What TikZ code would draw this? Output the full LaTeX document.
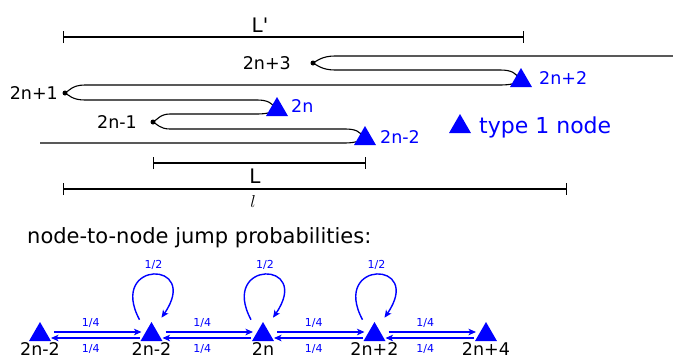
\documentclass[tikz,border=0pt]{standalone}
\usepackage{fontspec}
\setmainfont{DejaVu Sans}
\usepackage{tikz}
\usetikzlibrary{arrows.meta, shapes.geometric, positioning, calc}

\begin{document}
\begin{tikzpicture}[
    x=1pt, y=-1pt,
    tri/.style={regular polygon, regular polygon sides=3, fill=blue, inner sep=0pt, minimum size=25.4pt},
    dot/.style={circle, fill=black, inner sep=0pt, minimum size=5pt},
    wire/.style={line width=1.1pt},
    span/.style={{Bar[width=12pt]}-{Bar[width=12pt]}, line width=1.1pt},
    jump/.style={-{Stealth[length=7.5pt, width=6.5pt, inset=2pt]}, blue, line width=1.4pt},
    num/.style={inner sep=0pt, font=\fontsize{17.5}{20}\selectfont},
    big/.style={inner sep=0pt, font=\fontsize{20}{24}\selectfont},
    prob/.style={inner sep=0pt, text=blue, font=\fontsize{11}{13}\selectfont}
  ]
  \useasboundingbox (0,0) rectangle (673,359);

  % Length bars
  \coordinate (lpa) at (63,37);  \coordinate (lpb) at (524,37);
  \coordinate (la)  at (153,163); \coordinate (lb)  at (366,163);
  \coordinate (sa)  at (63,189);  \coordinate (sb)  at (567,189);
  \draw[span] (lpa) -- (lpb);
  \draw[span] (la) -- (lb);
  \draw[span] (sa) -- (sb);
  \node[big, anchor=base] (lplab) at (260,32) {L\textquotesingle};
  \node[big, anchor=base] (llab) at (255,183) {L};
  \node[num] (slab) at (253,201) {$l$};

  % Folded chain
  \node[dot] (d3) at (313,63) {};
  \node[dot] (d1) at (65,93) {};
  \node[dot] (dm1) at (153,122) {};
  \coordinate (zs) at (40,143);
  \coordinate (ze) at (673,56);
  \draw[wire] (zs) -- (345,143) .. controls (357,143) and (360,140) .. (365,138.7)
    .. controls (360,131) and (355,129) .. (345,129) -- (170,129)
    .. controls (160,129) and (157,124) .. (dm1.center)
    .. controls (157,120) and (160,114) .. (170,114) -- (257,114)
    .. controls (268,114) and (272,112) .. (277,109.7)
    .. controls (272,103) and (268,100) .. (257,100) -- (85,100)
    .. controls (72,100) and (69,95) .. (d1.center)
    .. controls (69,91) and (72,85) .. (85,85) -- (500,85)
    .. controls (512,85) and (516,83) .. (521,80.7)
    .. controls (516,73) and (512,70) .. (500,70) -- (335,70)
    .. controls (322,70) and (317,65) .. (d3.center)
    .. controls (317,61) and (322,56) .. (335,56) -- (ze);

  % Type 1 nodes on the chain
  \node[tri] (t2) at (521,80.7) {};
  \node[tri] (t0) at (277,109.7) {};
  \node[tri] (tm2) at (365,138.7) {};
  \node[num, anchor=east] (d3lab) at (291,63) {2n+3};
  \node[num, anchor=east] (d1lab) at (58,93) {2n+1};
  \node[num, anchor=east] (dm1lab) at (137,122) {2n-1};
  \node[num, blue, anchor=west] (t2lab) at (539,78.5) {2n+2};
  \node[num, blue, anchor=west] (t0lab) at (291,106.5) {2n};
  \node[num, blue, anchor=west] (tm2lab) at (380,137) {2n-2};

  % Key
  \node[tri] (key) at (460,126.7) {};
  \node[inner sep=0pt, text=blue, font=\fontsize{22}{26}\selectfont, anchor=base west] (keylab) at (479,133) {type 1 node};

  % Jump probabilities
  \node[inner sep=0pt, font=\fontsize{21}{25}\selectfont, anchor=base west] (title) at (27,243) {node-to-node jump probabilities:};
  \foreach \i/\x/\t in {0/40/2n-2, 1/151.5/2n-2, 2/263/2n, 3/374.5/2n+2, 4/486/2n+4} {
    \node[tri] (b\i) at (\x,334.7) {};
    \node[num] (bl\i) at (\x,349) {\t};
  }
  \foreach \i/\j in {0/1, 1/2, 2/3, 3/4} {
    \draw[jump, shorten <=14pt, shorten >=10pt] ([yshift=2.7pt]b\i.center) -- node[prob, yshift=9pt, xshift=-5pt] (pa\i) {1/4} ([yshift=2.7pt]b\j.center);
    \draw[jump, shorten <=12pt, shorten >=11pt] ([yshift=-3.3pt]b\j.center) -- node[prob, yshift=-11pt, xshift=-5pt] (pb\i) {1/4} ([yshift=-3.3pt]b\i.center);
  }
  \foreach \i in {1,2,3} {
    \draw[jump] ($(b\i.center)+(-12,-15)$) .. controls +(-32,-60) and +(40,-58) .. ($(b\i.center)+(10,-17)$);
    \node[prob] (ps\i) at ($(b\i.center)+(2,-70)$) {1/2};
  }
\end{tikzpicture}
\end{document}
